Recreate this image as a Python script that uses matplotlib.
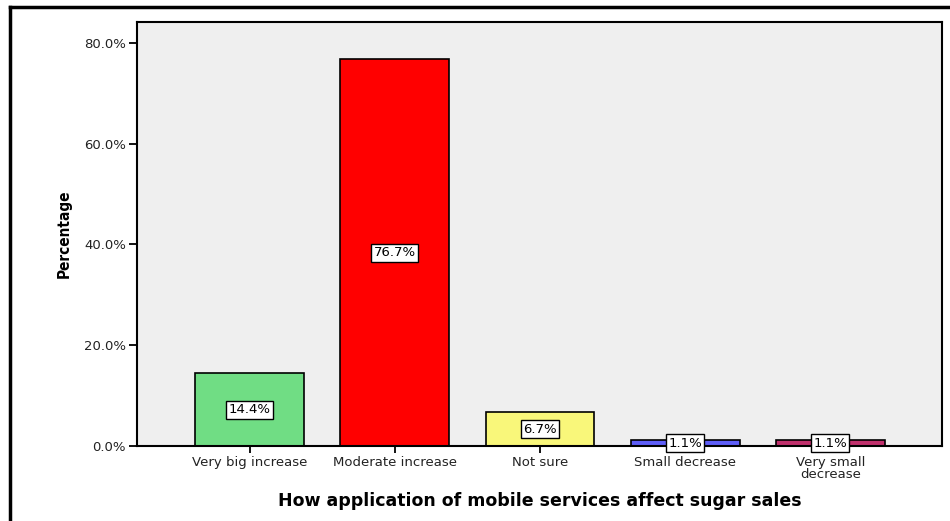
import matplotlib
matplotlib.use("Agg")
import matplotlib.pyplot as plt
from matplotlib.lines import Line2D

categories = ["Very big increase", "Moderate increase", "Not sure",
              "Small decrease", "Very small\ndecrease"]
percentages = [14.4, 76.7, 6.7, 1.1, 1.1]
bar_colors = ["#70DD84", "#FF0000", "#F9F77A", "#5E5EF7", "#C0306C"]
yticks = [0, 20, 40, 60, 80]

fig = plt.figure(figsize=(9.5, 5.21), dpi=100)
ax = fig.add_axes([137/950, 1 - 446/521, 805/950, 424/521])
ax.set_facecolor("#EFEFEF")

x = list(range(len(categories)))
ax.bar(x, percentages, width=0.75, color=bar_colors,
       edgecolor="black", linewidth=1.2, zorder=2)

for xi, v in zip(x, percentages):
    ax.text(xi, v / 2, "%.1f%%" % v, ha="center", va="center",
            fontsize=9.5, zorder=3,
            bbox=dict(boxstyle="square,pad=0.18", fc="white",
                      ec="black", lw=1))

ax.set_xlim(-0.776, 4.77)
ax.set_ylim(0, 84.1)
ax.set_yticks(yticks)
ax.set_yticklabels(["%.1f%%" % t for t in yticks], fontsize=9.5,
                   color="#222222")
ax.set_xticks(x)
ax.set_xticklabels(categories, fontsize=9.5, linespacing=0.95,
                   color="#222222")
ax.tick_params(axis="y", direction="out", length=6, width=1.3, pad=2)
ax.tick_params(axis="x", direction="out", length=5, width=1.3, pad=2)

for s in ax.spines.values():
    s.set_linewidth(1.5)
    s.set_color("black")

ax.set_xlabel("How application of mobile services affect sugar sales",
              fontsize=12.5, fontweight="bold", labelpad=8)
ax.set_ylabel("Percentage", fontsize=11, fontweight="bold",
              fontstretch="condensed", labelpad=9)

# outer frame (top and left edge)
fig.add_artist(Line2D([10/950, 10/950], [0, 1 - 7/521],
                      color="black", lw=2.5, transform=fig.transFigure))
fig.add_artist(Line2D([10/950, 1], [1 - 7/521, 1 - 7/521],
                      color="black", lw=2.5, transform=fig.transFigure))

fig.savefig("out.png", dpi=100, facecolor="white")
